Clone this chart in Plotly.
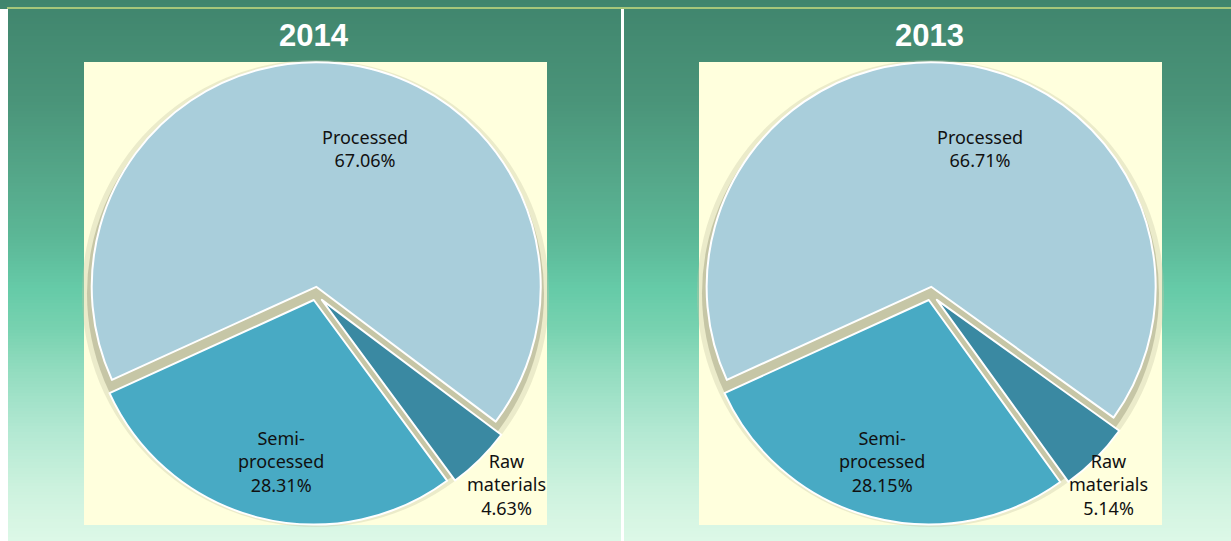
import plotly.graph_objects as go

W, H = 1231, 541

years = ['2014', '2013']
categories = ['Processed', 'Semi-processed', 'Raw materials']
display_names = ['Processed', 'Semi-<br>processed', 'Raw<br>materials']
share_2014 = [67.06, 28.31, 4.63]
share_2013 = [66.71, 28.15, 5.14]

slice_colors = ['#a9cedb', '#48aac4', '#3a89a2']
box_color = '#ffffdd'
shadow_color = '#c6c6a6'

# background gradient stops (pixel y from top, colour)
bg_stops = [(0, (0x40, 0x85, 0x6d)), (100, (0x4a, 0x94, 0x79)), (180, (0x55, 0xa8, 0x8a)),
            (240, (0x5c, 0xb8, 0x97)), (290, (0x66, 0xcb, 0xa8)), (330, (0x78, 0xd2, 0xb0)),
            (370, (0x92, 0xdc, 0xbf)), (430, (0xb2, 0xe8, 0xd2)), (490, (0xcd, 0xf2, 0xde)),
            (541, (0xdd, 0xf8, 0xe7))]


def px_x(v):
    return v / W


def px_y(v):
    return 1 - v / H


def bg_color(y):
    for (y0, c0), (y1, c1) in zip(bg_stops[:-1], bg_stops[1:]):
        if y0 <= y <= y1:
            t = (y - y0) / (y1 - y0)
            c = [round(a + (b - a) * t) for a, b in zip(c0, c1)]
            return 'rgb(%d,%d,%d)' % tuple(c)
    return 'rgb(221,248,231)'


shapes = []
step = 3
for y in range(0, H, step):
    shapes.append(dict(type='rect', xref='paper', yref='paper', layer='below',
                       x0=0, x1=1, y0=px_y(y + step + 0.5), y1=px_y(y),
                       fillcolor=bg_color(y + step / 2), line_width=0))

# white left strip, divider, top rule
shapes.append(dict(type='rect', xref='paper', yref='paper', layer='below',
                   x0=0, x1=px_x(8), y0=0, y1=px_y(9), fillcolor='white', line_width=0))
shapes.append(dict(type='rect', xref='paper', yref='paper', layer='below',
                   x0=px_x(621), x1=px_x(624), y0=0, y1=px_y(9), fillcolor='white', line_width=0))
shapes.append(dict(type='rect', xref='paper', yref='paper', layer='below',
                   x0=px_x(7), x1=1, y0=px_y(9), y1=px_y(7), fillcolor='#a6c77a', line_width=0))

box_lefts = [84, 699]
box_top, box_bottom, box_size = 62, 525, 463
panel_centers = [314, 929]
# label centres inside each box (px from box left / top)
label_pos = [[(281, 86), (197, 399), (422, 422)],
             [(281, 86), (183, 399), (409, 422)]]


def disk_domain(bx, shrink):
    return dict(x=[px_x(bx + shrink), px_x(bx + box_size - shrink)],
                y=[px_y(box_bottom - shrink), px_y(box_top + shrink)])


fig = go.Figure()
for year, shares, bx, pc, lp in zip(years, [share_2014, share_2013], box_lefts, panel_centers, label_pos):
    shapes.append(dict(type='rect', xref='paper', yref='paper', layer='below',
                       x0=px_x(bx), x1=px_x(bx + box_size), y0=px_y(box_bottom), y1=px_y(box_top),
                       fillcolor=box_color, line_width=0))
    # soft shadow behind exploded slices
    fig.add_trace(go.Pie(values=[1], labels=['shadow'], domain=disk_domain(bx, -2), sort=False,
                         marker=dict(colors=[shadow_color], line=dict(width=0)), opacity=0.35,
                         textinfo='none', hoverinfo='skip', showlegend=False))
    fig.add_trace(go.Pie(values=[1], labels=['shadow'], domain=disk_domain(bx, 3), sort=False,
                         marker=dict(colors=[shadow_color], line=dict(width=0)),
                         textinfo='none', hoverinfo='skip', showlegend=False))
    fig.add_trace(go.Pie(
        values=shares, labels=categories, domain=disk_domain(bx, -2),
        sort=False, direction='counterclockwise', rotation=-114.5,
        pull=[0.03, 0.03, 0.04],
        marker=dict(colors=slice_colors, line=dict(color='white', width=2)),
        textinfo='none', automargin=False,
        hoverinfo='label+value', showlegend=False,
    ))
    for name, val, (lx, ly) in zip(display_names, shares, lp):
        fig.add_annotation(x=px_x(bx + lx), y=px_y(box_top + ly), xref='paper', yref='paper',
                           xanchor='center', yanchor='middle', showarrow=False,
                           text='%s<br>%.2f%%' % (name, val),
                           font=dict(family='Noto Sans', size=18, color='#111111'))
    fig.add_annotation(x=px_x(pc), y=px_y(35), xref='paper', yref='paper',
                       xanchor='center', yanchor='middle',
                       text='<b>%s</b>' % year, showarrow=False,
                       font=dict(family='Liberation Sans', size=31, color='white'))

fig.update_layout(width=W, height=H, margin=dict(l=0, r=0, t=0, b=0, autoexpand=False),
                  paper_bgcolor='#42876f', plot_bgcolor='rgba(0,0,0,0)',
                  shapes=shapes, showlegend=False)

fig.write_html('out.html', config={'displayModeBar': False},
               post_script="document.body.style.margin='0';")
